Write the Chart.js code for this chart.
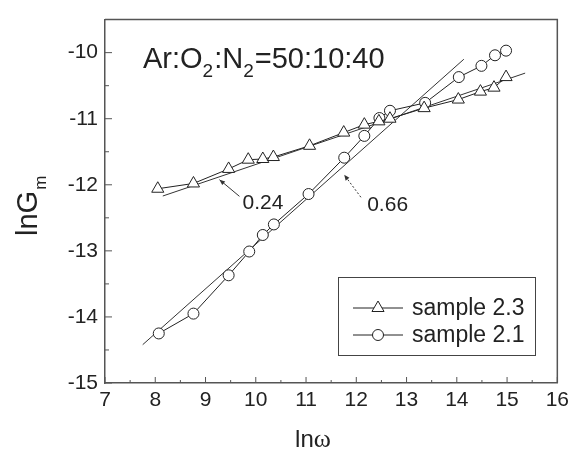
<!DOCTYPE html>
<html>
<head>
<meta charset="utf-8">
<script src="https://cdn.jsdelivr.net/npm/chart.js@4.4.1/dist/chart.umd.min.js"></script>
<style>
  html, body { margin: 0; padding: 0; background: #fff; }
  #wrap { width: 574px; height: 450px; position: relative; }
</style>
</head>
<body>
<div id="wrap"><canvas id="c" width="574" height="450"></canvas></div>
<script>
// ---- data ----
const lnw_23 = [8.05, 8.76, 9.46, 9.85, 10.14, 10.35, 11.07, 11.75, 12.16, 12.45, 12.67, 13.35, 14.03, 14.47, 14.74, 14.98];
const lnG_23 = [-12.06, -11.98, -11.76, -11.62, -11.61, -11.58, -11.41, -11.21, -11.09, -11.04, -11.00, -10.84, -10.71, -10.59, -10.53, -10.37];
const lnw_21 = [8.07, 8.76, 9.46, 9.87, 10.14, 10.36, 11.05, 11.76, 12.16, 12.46, 12.67, 13.37, 14.04, 14.49, 14.76, 14.98];
const lnG_21 = [-14.25, -13.95, -13.37, -13.01, -12.76, -12.60, -12.14, -11.59, -11.26, -10.99, -10.88, -10.76, -10.37, -10.20, -10.04, -9.97];
const fit024_x = [8.15, 15.36];
const fit024_y = [-12.17, -10.31];
const fit066_x = [7.75, 14.14];
const fit066_y = [-14.42, -10.10];
const xTicks = [7, 8, 9, 10, 11, 12, 13, 14, 15, 16];
const yTicks = [-15, -14, -13, -12, -11, -10];
const seriesLabels = ['sample 2.3', 'sample 2.1'];
const slopeLabels = ['0.24', '0.66'];
const titleParts = [['Ar:O', false], ['2', true], [':N', false], ['2', true], ['=50:10:40', false]];

const pts = (xs, ys) => xs.map((x, i) => ({ x: x, y: ys[i] }));
const INK = '#222';
const FONT = '"Liberation Sans", Arial, sans-serif';

// annotation placement (data units)
const notes = [
  { text: slopeLabels[0], tx: 9.735, ty: -12.28, from: [9.675, -12.175], to: [9.278, -11.923], dash: [] },
  { text: slopeLabels[1], tx: 12.217, ty: -12.31, from: [12.092, -12.189], to: [11.76, -11.849], dash: [2, 2] }
];

const decor = {
  id: 'decor',
  afterDraw(chart) {
    const ctx = chart.ctx;
    const a = chart.chartArea;
    const xs = chart.scales.x, ys = chart.scales.y;
    ctx.save();
    // frame top & right
    ctx.strokeStyle = '#555';
    ctx.lineWidth = 1.5;
    ctx.beginPath();
    ctx.moveTo(a.left, a.top); ctx.lineTo(a.right, a.top); ctx.lineTo(a.right, a.bottom);
    ctx.stroke();
    // inward ticks
    ctx.lineWidth = 1;
    ctx.beginPath();
    for (let v = 7; v <= 16.001; v += 0.5) {
      const px = xs.getPixelForValue(v);
      const len = Math.abs(v - Math.round(v)) < 1e-6 ? 6 : 3;
      ctx.moveTo(px, a.bottom); ctx.lineTo(px, a.bottom - len);
    }
    for (let v = -15; v <= -9.999; v += 0.5) {
      const py = ys.getPixelForValue(v);
      const len = Math.abs(v - Math.round(v)) < 1e-6 ? 7 : 4;
      ctx.moveTo(a.left, py); ctx.lineTo(a.left + len, py);
    }
    ctx.stroke();

    ctx.fillStyle = INK;
    ctx.textBaseline = 'alphabetic';
    // title with subscripts
    let x = a.left + 38;
    const base = a.top + 48;
    for (const [t, sub] of titleParts) {
      ctx.font = (sub ? '19px ' : '29px ') + FONT;
      ctx.fillText(t, x, sub ? base + 9 : base);
      x += ctx.measureText(t).width + (sub ? 1 : 0);
    }

    // axis titles
    ctx.font = '24px ' + FONT;
    const l1 = 'ln';
    const w1 = ctx.measureText(l1).width;
    ctx.font = '26px "Liberation Serif", serif';
    const w2 = ctx.measureText('\u03c9').width;
    let sx = 313 - (w1 + w2) / 2;
    ctx.font = '24px ' + FONT;
    ctx.fillText(l1, sx, 447);
    ctx.font = '26px "Liberation Serif", serif';
    ctx.fillText('\u03c9', sx + w1, 447);

    ctx.save();
    ctx.translate(37, 236);
    ctx.rotate(-Math.PI / 2);
    ctx.font = '29px ' + FONT;
    ctx.fillText('lnG', 0, 0);
    const gw = ctx.measureText('lnG').width;
    ctx.font = '17px ' + FONT;
    ctx.fillText('m', gw + 1, 9);
    ctx.restore();

    // slope annotations with arrows
    for (const n of notes) {
      const fx = xs.getPixelForValue(n.from[0]), fy = ys.getPixelForValue(n.from[1]);
      const tx = xs.getPixelForValue(n.to[0]), ty = ys.getPixelForValue(n.to[1]);
      ctx.strokeStyle = '#333';
      ctx.lineWidth = 1;
      ctx.setLineDash(n.dash);
      ctx.beginPath(); ctx.moveTo(fx, fy); ctx.lineTo(tx, ty); ctx.stroke();
      ctx.setLineDash([]);
      const ang = Math.atan2(ty - fy, tx - fx);
      ctx.beginPath();
      ctx.moveTo(tx, ty);
      ctx.lineTo(tx - 6 * Math.cos(ang - 0.4), ty - 6 * Math.sin(ang - 0.4));
      ctx.lineTo(tx - 6 * Math.cos(ang + 0.4), ty - 6 * Math.sin(ang + 0.4));
      ctx.closePath();
      ctx.fillStyle = '#333';
      ctx.fill();
      ctx.fillStyle = INK;
      ctx.font = '21px ' + FONT;
      ctx.textBaseline = 'middle';
      ctx.fillText(n.text, xs.getPixelForValue(n.tx), ys.getPixelForValue(n.ty));
      ctx.textBaseline = 'alphabetic';
    }

    // legend box
    const bx = 338, by = 277, bw = 197, bh = 78;
    ctx.strokeStyle = '#444';
    ctx.lineWidth = 1;
    ctx.strokeRect(bx + 0.5, by + 0.5, bw, bh);
    const rows = [[0, 308], [1, 335]];
    for (const [di, ry] of rows) {
      const ds = chart.data.datasets[di];
      ctx.strokeStyle = INK;
      ctx.lineWidth = 1;
      ctx.beginPath(); ctx.moveTo(353, ry); ctx.lineTo(403, ry); ctx.stroke();
      ctx.fillStyle = '#fff';
      ctx.strokeStyle = INK;
      ctx.beginPath();
      if (ds.pointStyle === 'circle') {
        ctx.arc(378, ry, ds.pointRadius, 0, Math.PI * 2);
      } else {
        const r = ds.pointRadius;
        ctx.moveTo(378, ry - r);
        ctx.lineTo(378 + r * 0.866, ry + r * 0.5);
        ctx.lineTo(378 - r * 0.866, ry + r * 0.5);
        ctx.closePath();
      }
      ctx.fill(); ctx.stroke();
      ctx.fillStyle = INK;
      ctx.font = '23px ' + FONT;
      ctx.textBaseline = 'middle';
      ctx.fillText(ds.label, 412, ry + 1);
      ctx.textBaseline = 'alphabetic';
    }
    ctx.restore();
  }
};

new Chart(document.getElementById('c'), {
  type: 'scatter',
  data: {
    datasets: [
      { label: seriesLabels[0], data: pts(lnw_23, lnG_23), showLine: true,
        borderColor: INK, borderWidth: 1, pointStyle: 'triangle', pointRadius: 7,
        pointBackgroundColor: '#fff', pointBorderColor: INK, pointBorderWidth: 1, tension: 0 },
      { label: seriesLabels[1], data: pts(lnw_21, lnG_21), showLine: true,
        borderColor: INK, borderWidth: 1, pointStyle: 'circle', pointRadius: 5.5,
        pointBackgroundColor: '#fff', pointBorderColor: INK, pointBorderWidth: 1, tension: 0 },
      { label: 'fit 0.24', data: pts(fit024_x, fit024_y), showLine: true,
        borderColor: '#333', borderWidth: 1, pointRadius: 0 },
      { label: 'fit 0.66', data: pts(fit066_x, fit066_y), showLine: true,
        borderColor: '#333', borderWidth: 1, pointRadius: 0 }
    ]
  },
  options: {
    responsive: false,
    animation: false,
    devicePixelRatio: 1,
    layout: { padding: { left: 0, right: 16, top: 11, bottom: 0 } },
    plugins: { legend: { display: false }, tooltip: { enabled: false } },
    scales: {
      x: {
        type: 'linear', min: 7, max: 16,
        grid: { display: false, drawTicks: false },
        border: { display: true, color: '#555', width: 1.5 },
        ticks: { color: INK, font: { family: FONT, size: 21 }, padding: 5, autoSkip: false, maxRotation: 0 },
        afterBuildTicks: s => { s.ticks = xTicks.map(v => ({ value: v })); },
        afterFit: s => { s.height = 67; }
      },
      y: {
        type: 'linear', min: -15, max: -9.5,
        grid: { display: false, drawTicks: false },
        border: { display: true, color: '#555', width: 1.5 },
        ticks: { color: INK, font: { family: FONT, size: 21 }, padding: 7, autoSkip: false },
        afterBuildTicks: s => { s.ticks = yTicks.map(v => ({ value: v })); },
        afterFit: s => { s.width = 105; }
      }
    }
  },
  plugins: [decor]
});
</script>
</body>
</html>
